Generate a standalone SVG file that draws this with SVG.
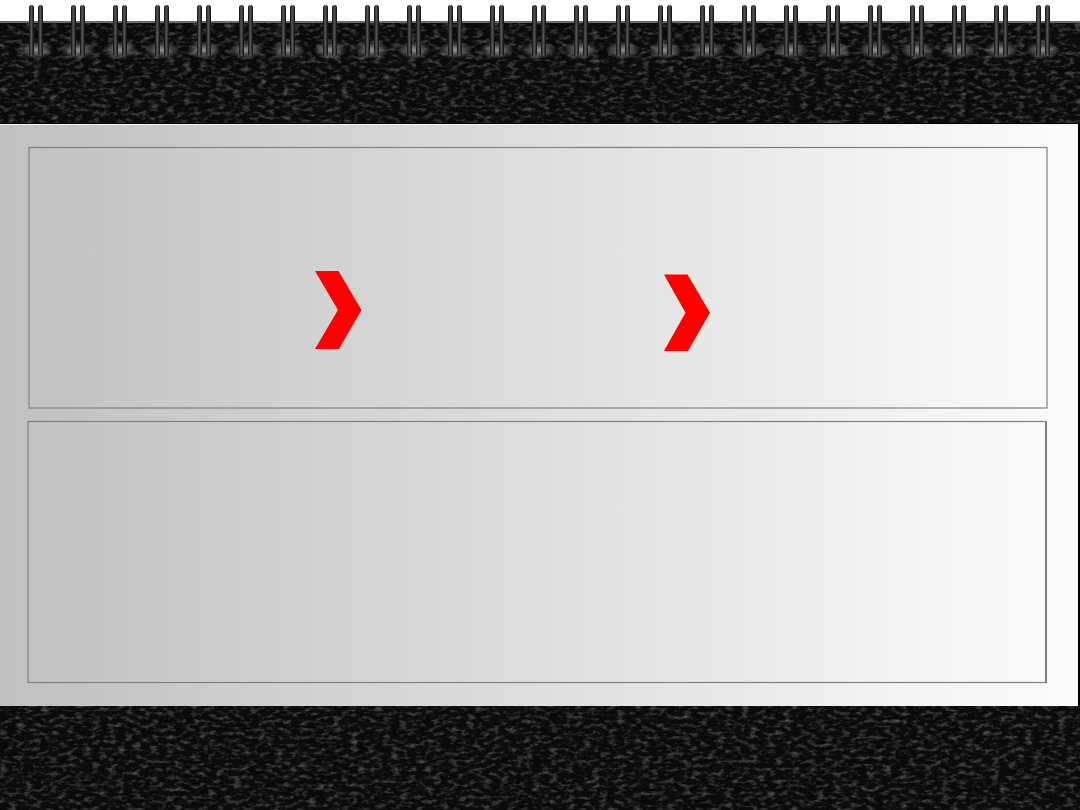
<svg xmlns="http://www.w3.org/2000/svg" xmlns:xlink="http://www.w3.org/1999/xlink" width="1080" height="810" viewBox="0 0 1080 810">
  <defs>
    <filter id="leather" x="0" y="0" width="100%" height="100%">
      <feTurbulence type="fractalNoise" baseFrequency="0.12 0.25" numOctaves="3" seed="4" result="n"/>
      <feColorMatrix in="n" type="matrix" values="0 0 0 0 0.16  0 0 0 0 0.16  0 0 0 0 0.16  0 0 0 -1.6 0.85" result="c"/>
      <feComposite in="c" in2="SourceGraphic" operator="in"/>
    </filter>
    <linearGradient id="paper" x1="0" y1="0" x2="1" y2="0">
      <stop offset="0" stop-color="#c0c0c0"/>
      <stop offset="1" stop-color="#fcfcfc"/>
    </linearGradient>
    <linearGradient id="bar" x1="0" y1="0" x2="1" y2="0">
      <stop offset="0" stop-color="#0a0a0a"/>
      <stop offset="0.45" stop-color="#5a5a5a"/>
      <stop offset="1" stop-color="#0a0a0a"/>
    </linearGradient>
    <radialGradient id="glow" cx="0.5" cy="0.5" r="0.5">
      <stop offset="0" stop-color="#9a9a9a" stop-opacity="0.95"/>
      <stop offset="0.6" stop-color="#777" stop-opacity="0.5"/>
      <stop offset="1" stop-color="#777" stop-opacity="0"/>
    </radialGradient>
    <g id="ring">
      <ellipse cx="0" cy="50" rx="17" ry="9" fill="url(#glow)"/>
      <rect x="-7" y="5" width="5" height="51" rx="2.5" fill="url(#bar)"/>
      <rect x="2" y="5" width="5" height="51" rx="2.5" fill="url(#bar)"/>
    </g>
    <style>
      .panel { fill: none; stroke: #808080; stroke-width: 1.2; }
      .chev { fill: #ff0000; }
    </style>
  </defs>

  <!-- background -->
  <rect x="0" y="0" width="1080" height="810" fill="#ffffff"/>
  <rect x="0" y="21" width="1080" height="2" fill="#6a6a6a"/>
  <rect x="0" y="23" width="1080" height="101" fill="#0b0b0b"/>
  <rect x="0" y="23" width="1080" height="101" fill="#0b0b0b" filter="url(#leather)"/>
  <rect x="0" y="706" width="1080" height="104" fill="#0b0b0b"/>
  <rect x="0" y="706" width="1080" height="104" fill="#0b0b0b" filter="url(#leather)"/>

  <!-- paper -->
  <rect x="1078" y="123" width="2" height="584" fill="#000"/>
  <rect x="0" y="124" width="1078" height="582" fill="url(#paper)"/>
  <rect x="0" y="123" width="1078" height="1" fill="#000"/>
  <rect x="0" y="124" width="1078" height="1" fill="#f4f4f4"/>

  <!-- rings -->
  <g id="rings">
    <use xlink:href="#ring" x="36"/>
    <use xlink:href="#ring" x="78"/>
    <use xlink:href="#ring" x="120"/>
    <use xlink:href="#ring" x="162"/>
    <use xlink:href="#ring" x="204"/>
    <use xlink:href="#ring" x="246"/>
    <use xlink:href="#ring" x="288"/>
    <use xlink:href="#ring" x="330"/>
    <use xlink:href="#ring" x="372"/>
    <use xlink:href="#ring" x="414"/>
    <use xlink:href="#ring" x="455"/>
    <use xlink:href="#ring" x="497"/>
    <use xlink:href="#ring" x="539"/>
    <use xlink:href="#ring" x="581"/>
    <use xlink:href="#ring" x="623"/>
    <use xlink:href="#ring" x="665"/>
    <use xlink:href="#ring" x="707"/>
    <use xlink:href="#ring" x="749"/>
    <use xlink:href="#ring" x="791"/>
    <use xlink:href="#ring" x="833"/>
    <use xlink:href="#ring" x="875"/>
    <use xlink:href="#ring" x="917"/>
    <use xlink:href="#ring" x="959"/>
    <use xlink:href="#ring" x="1001"/>
    <use xlink:href="#ring" x="1043"/>
  </g>

  <!-- panels -->
  <g id="panel-top">
    <rect class="panel" x="29" y="147.5" width="1018" height="260.5"/>
  </g>
  <g id="panel-bottom">
    <rect class="panel" x="28" y="421.5" width="1018" height="261"/>
    <rect x="1045" y="422" width="2" height="261" fill="#808080"/>
  </g>

  <!-- connectors -->
  <g id="connectors">
    <polygon class="chev" points="315,271 338.5,271 361.5,310 339,349 315,349 338,310"/>
    <polygon class="chev" points="664,274.5 687.5,274.5 710,312.7 688,351 664,351 685.5,312.7"/>
  </g>
</svg>
